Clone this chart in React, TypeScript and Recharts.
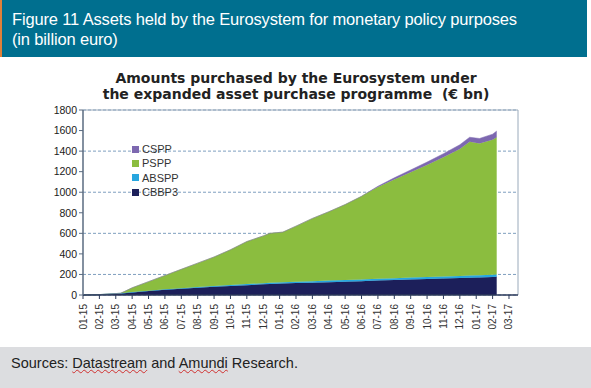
import { Area, AreaChart, CartesianGrid, ReferenceLine, XAxis, YAxis } from "recharts";

// month index: 0 = 01-15, 12 = 01-16, 24 = 01-17
const monthPos = [
  0, 1, 2, 2.3, 3, 4, 5, 6, 7, 8, 9, 10, 11, 11.4, 12.2, 13, 14, 15, 16, 17,
  17.25, 18, 19, 20, 21, 22, 23, 23.6, 24.2, 25, 25.25,
];
const cbbp3 = [
  0, 3, 12, 15, 25, 38, 50, 60, 70, 80, 88, 96, 104, 107, 112, 116, 120, 125,
  130, 135, 136, 140, 146, 151, 156, 161, 166, 169, 171, 175, 177,
];
const abspp = [
  0, 1, 2, 2, 3, 4, 5, 6, 7, 8, 9, 10, 11, 11, 12, 13, 14, 15, 16, 17, 17, 18,
  18, 19, 19, 20, 20, 21, 21, 22, 22,
];
const pspp = [
  0, 0, 0, 0, 42, 88, 135, 184, 233, 282, 343, 414, 460, 482, 488, 541, 611,
  670, 734, 808, 832, 892, 961, 1025, 1090, 1159, 1234, 1300, 1283, 1313, 1336,
];
const cspp = [
  0, 0, 0, 0, 0, 0, 0, 0, 0, 0, 0, 0, 0, 0, 0, 0, 0, 0, 0, 0, 0, 8, 15, 22, 28,
  35, 42, 45, 48, 55, 60,
];

const tickLabels = [
  "01-15", "02-15", "03-15", "04-15", "05-15", "06-15", "07-15", "08-15",
  "09-15", "10-15", "11-15", "12-15", "01-16", "02-16", "03-16", "04-16",
  "05-16", "06-16", "07-16", "08-16", "09-16", "10-16", "11-16", "12-16",
  "01-17", "02-17", "03-17",
];
const yTicks = [0, 200, 400, 600, 800, 1000, 1200, 1400, 1600, 1800];

const SERIES = [
  { key: "CBBP3", values: cbbp3, color: "#1c1f5a" },
  { key: "ABSPP", values: abspp, color: "#27a6df" },
  { key: "PSPP", values: pspp, color: "#8bbd3f" },
  { key: "CSPP", values: cspp, color: "#7d68b0" },
];

const data = monthPos.map((m, i) => {
  const row: Record<string, number> = { m };
  SERIES.forEach((s) => {
    row[s.key] = s.values[i];
  });
  return row;
});

const XTick = ({ x, y, payload }: any) => (
  <g transform={`translate(${x},${y})`}>
    <text
      x={-3}
      y={0}
      dy="0.35em"
      transform="rotate(-90)"
      textAnchor="end"
      fontSize={10}
      fill="#333"
      fontFamily="Liberation Sans, Arial, sans-serif"
    >
      {tickLabels[payload.value]}
    </text>
  </g>
);

const wavy = { textDecoration: "underline wavy #d03030", textDecorationThickness: 1 };

export default function App() {
  const legendItems = [...SERIES].reverse();
  return (
    <div
      style={{
        position: "absolute",
        left: 0,
        top: 0,
        width: 591,
        height: 388,
        background: "#fff",
        fontFamily: "Liberation Sans, Arial, sans-serif",
        overflow: "hidden",
      }}
    >
      <div
        style={{
          position: "absolute",
          left: 0,
          top: 0,
          width: 587,
          height: 57,
          background: "#006f8f",
          borderLeft: "2px solid #e0803a",
          color: "#fff",
          fontSize: 16.5,
          letterSpacing: -0.15,
          lineHeight: "20px",
          paddingLeft: 10,
          paddingTop: 9,
          boxSizing: "border-box",
        }}
      >
        <div>Figure 11 Assets held by the Eurosystem for monetary policy purposes</div>
        <div>(in billion euro)</div>
      </div>

      <div
        style={{
          position: "absolute",
          left: 96,
          top: 70,
          width: 400,
          textAlign: "center",
          fontFamily: "DejaVu Sans, Verdana, sans-serif",
          fontWeight: "bold",
          fontSize: 14,
          lineHeight: "16px",
          color: "#222",
        }}
      >
        <div>Amounts purchased by the Eurosystem under</div>
        <div>the expanded asset purchase programme&nbsp; (€ bn)</div>
      </div>

      <div style={{ position: "absolute", left: 0, top: 100 }}>
        <AreaChart
          width={560}
          height={240}
          data={data}
          margin={{ top: 10, right: 42, bottom: 5, left: 43 }}
        >
          <CartesianGrid
            vertical={false}
            stroke="#7f9fbf"
            strokeDasharray="3 2"
          />
          <XAxis
            dataKey="m"
            type="number"
            domain={[0, 26.55]}
            ticks={tickLabels.map((_, i) => i)}
            interval={0}
            height={40}
            tick={<XTick />}
            tickSize={4}
            axisLine={{ stroke: "#2c3a5a", strokeWidth: 1.5 }}
            tickLine={{ stroke: "#2c3a5a" }}
          />
          <YAxis
            domain={[0, 1800]}
            ticks={yTicks}
            width={40}
            tickSize={4}
            tick={{ fontSize: 10.5, fill: "#1a1a1a" }}
            axisLine={{ stroke: "#5a6b80", strokeWidth: 1.5 }}
            tickLine={{ stroke: "#5a6b80" }}
          />
          <ReferenceLine y={1800} stroke="#9aaabb" />
          <ReferenceLine x={26.55} stroke="#9aaabb" />
          {SERIES.map((s) => (
            <Area
              key={s.key}
              dataKey={s.key}
              stackId="app"
              type="linear"
              fill={s.color}
              fillOpacity={1}
              stroke={s.color}
              strokeWidth={0.5}
              isAnimationActive={false}
            />
          ))}
        </AreaChart>
      </div>

      <div style={{ position: "absolute", left: 132, top: 142 }}>
        {legendItems.map((s) => (
          <div
            key={s.key}
            style={{
              display: "flex",
              alignItems: "center",
              height: 14.3,
              fontSize: 11,
              color: "#333",
            }}
          >
            <span
              style={{
                width: 7,
                height: 7,
                background: s.color,
                marginRight: 3,
                display: "inline-block",
              }}
            />
            {s.key}
          </div>
        ))}
      </div>

      <div
        style={{
          position: "absolute",
          left: 0,
          top: 347,
          width: 591,
          height: 41,
          background: "#dcdde0",
          fontSize: 14.5,
          color: "#222",
          paddingLeft: 11,
          paddingTop: 8,
          boxSizing: "border-box",
        }}
      >
        Sources: <span style={wavy}>Datastream</span> and{" "}
        <span style={wavy}>Amundi</span> Research.
      </div>
    </div>
  );
}
